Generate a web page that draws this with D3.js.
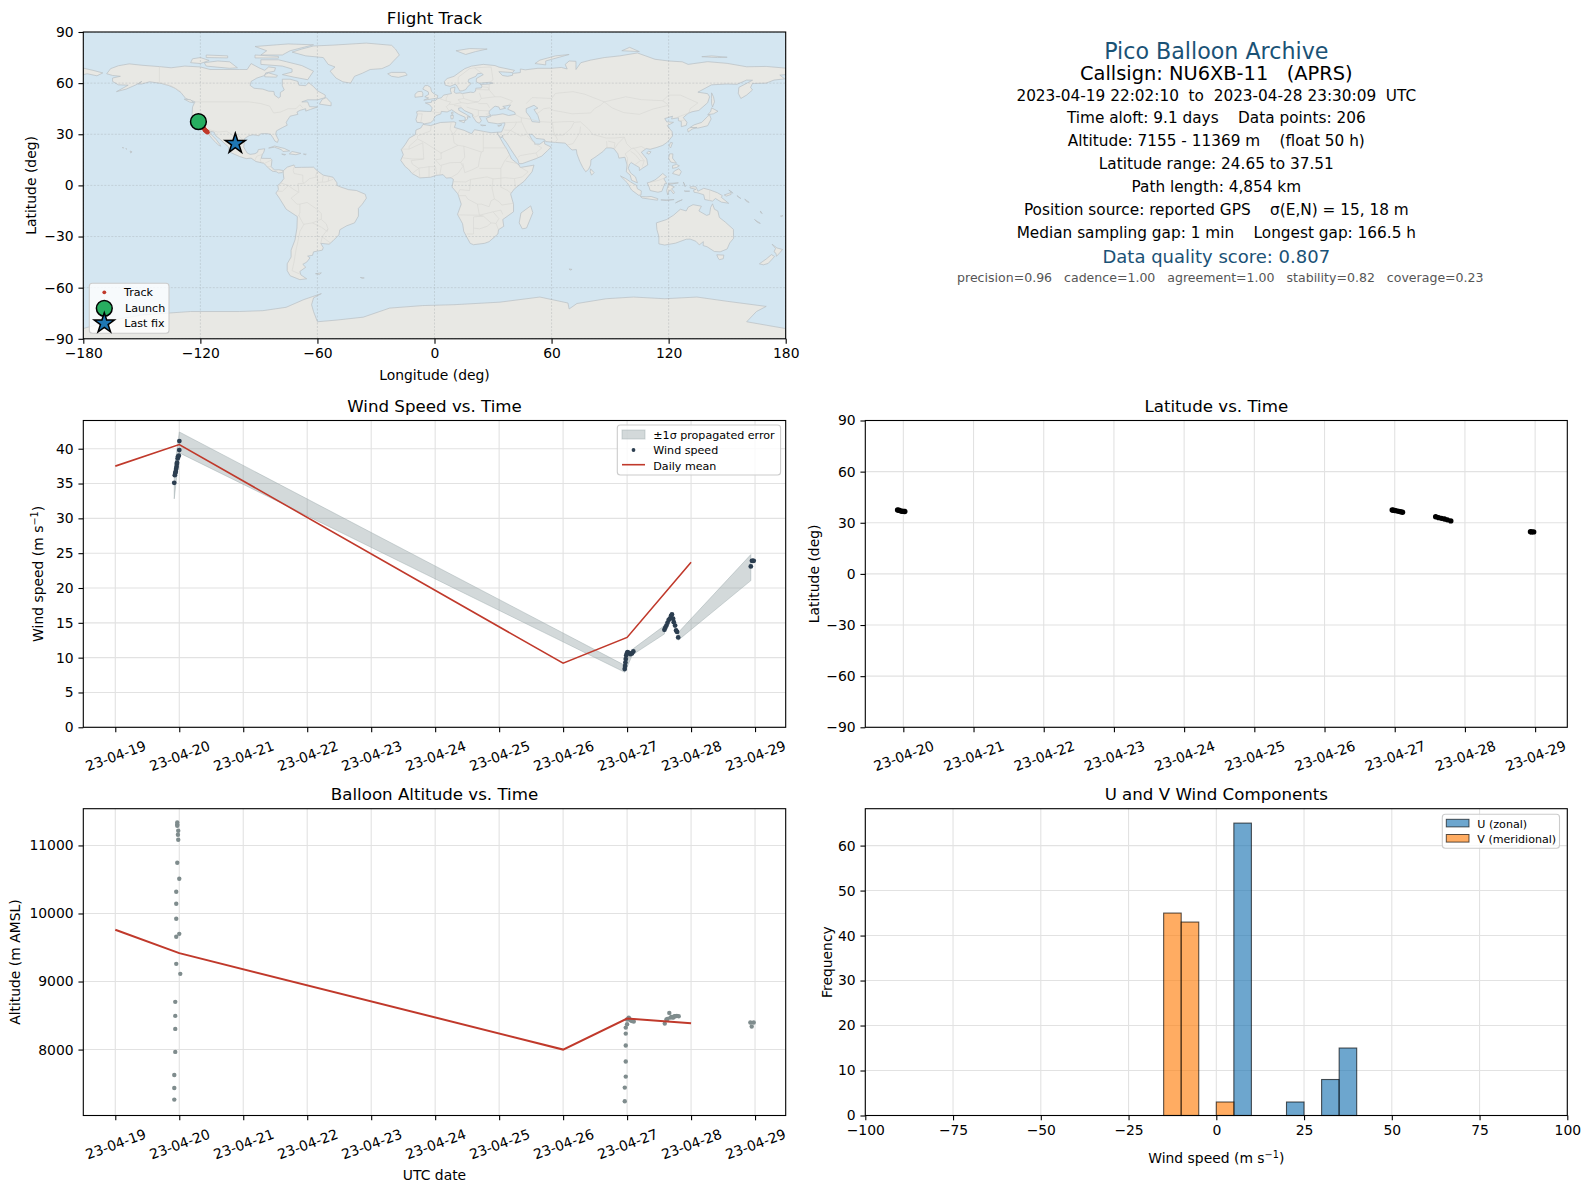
<!DOCTYPE html>
<html>
<head>
<meta charset="utf-8">
<script src="https://cdn.jsdelivr.net/npm/d3@7"></script>
<style>
  body { margin: 0; background: #fff; }
  text { font-family: "DejaVu Sans", sans-serif; white-space: pre; fill: #000; }
</style>
</head>
<body>
<div id="chart"></div>
<script>
// flight data
const dayTicks = ['2023-04-19', '2023-04-20', '2023-04-21', '2023-04-22', '2023-04-23', '2023-04-24', '2023-04-25', '2023-04-26', '2023-04-27', '2023-04-28', '2023-04-29']

const windTimes = ['04-19 22:07', '04-19 22:20', '04-19 22:30', '04-19 22:40', '04-19 22:50', '04-19 23:00', '04-19 23:05', '04-19 23:10', '04-19 23:25', '04-19 23:35', '04-19 23:50', '04-20 00:00', '04-20 00:02',
  '04-26 23:07', '04-26 23:15', '04-26 23:22', '04-26 23:30', '04-26 23:40', '04-26 23:55', '04-27 00:10', '04-27 00:40', '04-27 01:15', '04-27 01:50', '04-27 02:20',
  '04-27 14:00', '04-27 14:20', '04-27 14:45', '04-27 15:10', '04-27 15:35', '04-27 16:00', '04-27 16:30', '04-27 16:50', '04-27 17:15', '04-27 17:31', '04-27 18:00', '04-27 18:23', '04-27 18:45', '04-27 19:10',
  '04-28 22:25', '04-28 22:50', '04-28 23:10', '04-28 23:30']
const windSpeed = [35.1, 36.2, 36.5, 36.7, 37.1, 37.4, 37.8, 38.0, 38.6, 38.9, 39.0, 39.8, 41.1,
  8.37, 8.8, 9.3, 9.8, 10.3, 10.6, 10.8, 10.7, 10.5, 10.6, 10.9,
  14.0, 14.3, 14.6, 15.0, 15.4, 15.6, 16.0, 16.2, 15.6, 15.1, 14.6, 13.9, 13.7, 12.9,
  23.1, 23.9, 23.9, 23.9]

// null marks the gaps of the error band
const bandTimes = ['04-19 22:07', '04-20 00:02', '04-26 23:07', '04-27 02:00', '04-27 14:00', '04-27 16:00', '04-27 19:10', '04-28 22:25']
const bandUpper = [37.0, 42.4, 8.9, 11.2, 14.6, null, 13.6, 24.8]
const bandLower = [32.8, 39.4, 7.9, 10.4, 13.4, null, 12.5, 21.06]

const dailyTimes = ['04-19 00:00', '04-20 00:00', '04-26 00:00', '04-27 00:00', '04-28 00:00']
const dailyWind = [37.5, 40.6, 9.2, 12.9, 23.7]
const dailyAlt = [9760, 9417, 8000, 8456, 8385]

const latTimes = ['04-19 22:02', '04-19 22:30', '04-19 23:00', '04-19 23:30', '04-20 00:00', '04-20 00:30',
  '04-26 23:08', '04-26 23:30', '04-27 00:00', '04-27 00:40', '04-27 01:20', '04-27 02:00', '04-27 02:40',
  '04-27 14:00', '04-27 15:00', '04-27 16:00', '04-27 17:00', '04-27 18:00', '04-27 19:10',
  '04-28 22:25', '04-28 22:50', '04-28 23:30']
const latValues = [37.5, 37.3, 37.0, 36.8, 36.7, 36.6,
  37.5, 37.4, 37.2, 37.0, 36.7, 36.5, 36.2,
  33.5, 33.0, 32.6, 32.2, 31.7, 31.1,
  24.7, 24.65, 24.65]

const altTimes = ['04-19 22:08', '04-19 22:08', '04-19 22:08', '04-19 22:30', '04-19 22:30', '04-19 22:30', '04-19 22:30', '04-20 00:23', '04-19 22:52', '04-20 00:00', '04-19 22:52', '04-19 22:52', '04-19 22:52', '04-20 00:00', '04-19 22:52', '04-19 23:15', '04-19 23:37', '04-19 23:30', '04-19 23:37', '04-19 23:15', '04-19 23:15', '04-19 23:15',
  '04-26 23:08', '04-26 23:08', '04-26 23:30', '04-26 23:30', '04-26 23:30', '04-26 23:30', '04-26 23:30', '04-27 00:00', '04-27 00:00', '04-27 00:37', '04-27 00:55', '04-27 01:15', '04-27 01:50', '04-27 02:30',
  '04-27 14:08', '04-27 14:45', '04-27 15:10', '04-27 15:50', '04-27 16:15', '04-27 16:38', '04-27 17:00', '04-27 17:20', '04-27 17:45', '04-27 18:07', '04-27 18:40', '04-27 19:22',
  '04-28 22:15', '04-28 22:45', '04-28 23:30']
const altValues = [7265, 7436, 7627, 7966, 8304, 8495, 8701, 9113, 9260, 9701, 9657, 9922, 10142, 10510, 10319, 10745, 11083, 11157, 11216, 11289, 11309, 11338,
  7240, 7441, 7603, 7824, 8059, 8235, 8323, 8373, 8441, 8470, 8450, 8431, 8420, 8412,
  8382, 8441, 8450, 8539, 8470, 8480, 8475, 8470, 8490, 8490, 8495, 8490,
  8397, 8338, 8397]

const histStarts = d3.range(-100, 100, 5)
const uBinStarts = [5, 20, 30, 35]
const uCounts = [65, 3, 8, 15]
const vBinStarts = [-15, -10, 0]
const vCounts = [45, 43, 3]

const trackLon = [-121, -120.3, -119.6, -118.9, -118.2, -117.6, -117, -116.4, -103, -102.1]
const trackLat = [37.4, 36.8, 36, 35, 33.6, 32.4, 31.8, 31.2, 24.7, 24.5]
const launchPos = [-121, 37.4]
const lastFixPos = [-102.1, 24.5]

const infoText = [
  'Pico Balloon Archive',
  'Callsign: NU6XB-11   (APRS)',
  '2023-04-19 22:02:10  to  2023-04-28 23:30:09  UTC',
  'Time aloft: 9.1 days    Data points: 206',
  'Altitude: 7155 - 11369 m    (float 50 h)',
  'Latitude range: 24.65 to 37.51',
  'Path length: 4,854 km',
  'Position source: reported GPS    σ(E,N) = 15, 18 m',
  'Median sampling gap: 1 min    Longest gap: 166.5 h',
  'Data quality score: 0.807',
  'precision=0.96   cadence=1.00   agreement=1.00   stability=0.82   coverage=0.23'
]

// coastlines as lon, lat
const landNorthAmerica = [[-168, 65.5], [-166, 68.5], [-162, 70.2], [-156.5, 71.3], [-150, 70.5], [-141, 69.7], [-135, 69], [-128, 70], [-120, 69.5], [-115, 68], [-108, 68], [-100, 68], [-96, 68], [-94, 71.5], [-90, 69], [-87, 67.5], [-85, 69.5], [-81.5, 69], [-82, 67], [-86.5, 66], [-87, 64.5], [-91, 63], [-94, 61], [-94.5, 58.7], [-92.5, 57], [-88, 56.5], [-85, 55.3], [-82.3, 55.1], [-82, 53], [-80, 51.3], [-79, 52], [-79, 54.5], [-77, 56], [-78, 58.5], [-78, 62.3], [-74, 62.3], [-70, 61], [-69.5, 58.8], [-66, 58.5], [-64.5, 60.3], [-62, 58], [-60, 55.5], [-56, 53], [-56, 51.5], [-60, 50.2], [-65, 50.2], [-68, 49], [-65, 49], [-64.5, 47.5], [-64, 46.2], [-60, 46], [-63.5, 44.6], [-66, 43.6], [-66, 45], [-69, 44], [-70.5, 43], [-70, 41.7], [-74, 40.6], [-75.5, 38], [-76, 36.9], [-75.5, 35.3], [-78, 33.9], [-81, 32], [-81.4, 30], [-80, 26.8], [-80.5, 25.2], [-81.8, 26], [-82.8, 28], [-84, 30], [-86, 30.4], [-89, 30.3], [-90, 29.2], [-93, 29.7], [-95, 29.2], [-97.3, 27.5], [-97.5, 25], [-97.8, 22.5], [-96, 19], [-94.5, 18.2], [-92, 18.6], [-90.7, 19.5], [-90.3, 21], [-87, 21.5], [-87.5, 19.5], [-88.3, 18], [-88.8, 15.9], [-84, 15.8], [-83.3, 15], [-83.7, 11], [-82, 9], [-80, 9.2], [-77.4, 8.7], [-78, 7.5], [-80, 7.3], [-81, 8], [-83, 8.3], [-85, 10], [-86, 11.3], [-87.5, 13], [-91.5, 14], [-94, 16], [-96.5, 15.7], [-100, 17], [-104, 19], [-105.5, 20.5], [-105.5, 22.5], [-108, 25], [-109.5, 26.7], [-112, 29], [-113, 31.3], [-114.8, 31.7], [-114.5, 30], [-112, 27], [-110, 24], [-109.5, 23], [-110.5, 23.5], [-112, 25], [-114, 27.5], [-115.8, 30], [-117.1, 32.5], [-118.5, 34], [-120.6, 34.5], [-122, 36.8], [-123.8, 39.5], [-124.3, 41], [-124, 46], [-123, 48.5], [-122.7, 49], [-125, 50], [-127.5, 51], [-130, 54.5], [-133, 57], [-136, 58.5], [-140, 59.8], [-146, 60.8], [-150, 59.5], [-152, 59.5], [-150, 61], [-153, 59], [-158, 56.5], [-163, 55], [-157, 58.8], [-162, 59], [-165, 61], [-165, 63], [-161, 64], [-165, 64.5]]
const landSouthAmerica = [[-77.4, 8.7], [-75.5, 10.7], [-72, 12], [-71.5, 10.5], [-68, 10.6], [-62, 10.7], [-60, 8.5], [-57, 6], [-52, 4.8], [-50, 1.5], [-50, 0], [-48, -1], [-44, -2.5], [-40, -3], [-35.5, -5.2], [-34.9, -7.5], [-37, -11], [-39, -13.5], [-39, -18], [-41, -22], [-45, -23.7], [-48.5, -26], [-49, -29], [-52, -32.5], [-54, -34.5], [-58.3, -34], [-57, -36.5], [-57.5, -38], [-62, -39], [-62.5, -41], [-65, -41.5], [-63.8, -42.5], [-65.5, -45], [-67.5, -46.3], [-66, -48], [-69, -50.5], [-68.5, -52.5], [-65.5, -54.8], [-69, -55.3], [-74, -53], [-75.5, -50], [-75.5, -46], [-73.5, -42], [-73.5, -38], [-71.5, -32], [-70.5, -25], [-70.3, -18.3], [-76, -14], [-79.5, -7.5], [-81.3, -4.5], [-80, -2.5], [-80.3, 0], [-78.8, 1.5], [-77.2, 4], [-77.5, 6.8]]
const landAfrica = [[-5.9, 35.8], [-2, 35.1], [3, 36.9], [10, 37.3], [11, 36.8], [10.2, 34], [15.2, 32.3], [19, 30.3], [20.5, 32.7], [25, 31.7], [29, 30.9], [32.3, 31.2], [32.6, 29.9], [35.5, 24], [37.2, 21], [38.5, 18], [39.5, 15.5], [43.3, 12], [44, 10.5], [51, 11.9], [50, 8], [46, 2.5], [41, -2], [39, -5], [40.5, -11], [40.5, -15.5], [35, -20], [35.5, -24], [32.8, -26], [32.5, -28.5], [28, -33], [25.6, -34], [20, -34.8], [18.3, -34], [15, -27], [14.4, -22.5], [11.8, -17], [13.7, -11], [12, -5], [9, -1], [9.7, 3.5], [8.5, 4.5], [6, 4.3], [4.4, 6.3], [1, 5.9], [-2, 4.8], [-7.5, 4.4], [-11.5, 7], [-13.3, 9.5], [-15, 11], [-17.3, 14.7], [-16, 18], [-17, 21], [-15, 24], [-13, 27.7], [-9.8, 29.8], [-9.5, 32.5], [-7, 33.7]]
const landEurasia = [[-9, 37], [-9.5, 38.7], [-8.8, 41.5], [-9.2, 43.2], [-8, 43.7], [-4, 43.4], [-1.7, 43.4], [-1.2, 45.5], [-2.5, 47.3], [-4.7, 48.4], [-1.6, 48.7], [-1.5, 49.7], [0.2, 49.6], [1.6, 50.9], [3.5, 51.4], [4.7, 53], [7, 53.5], [8.7, 53.9], [8.2, 55.5], [8.2, 57], [10.5, 57.7], [10.3, 56], [10, 54.8], [11, 54], [13, 54.3], [14.3, 53.9], [18.5, 54.7], [20, 54.5], [21, 55.3], [21.2, 57], [24, 57.2], [24.4, 58.4], [23.5, 59.2], [28, 59.5], [30, 60], [28.5, 60.5], [25, 60.2], [22.9, 59.9], [21.4, 60.8], [21.5, 62.7], [25, 65], [24, 65.8], [22, 65.5], [21.2, 64], [17.5, 62.2], [17.2, 60.7], [18.8, 59.8], [16.7, 57.5], [16, 56.2], [14.3, 55.5], [12.9, 55.4], [12.5, 56.3], [11.2, 58.9], [10.5, 59.3], [8, 58.1], [5.5, 58.8], [5, 61], [6.5, 62.7], [10, 64], [13, 66.5], [15.5, 68.5], [19, 70], [25, 71], [31, 70.3], [33, 69.4], [41, 67.5], [40, 66.2], [35, 66.6], [33, 66.7], [34.8, 64.5], [37.5, 64], [40, 64.6], [40, 65.7], [44, 66.2], [44, 68.3], [46.5, 67.8], [53, 68.7], [60, 68.7], [65, 69.2], [68, 68.3], [67, 71], [69, 73], [72.5, 72.8], [72.5, 71], [72.5, 68], [75, 72], [80, 73.5], [87, 75], [95, 76], [104, 77.7], [113, 74], [120, 73], [127, 72.5], [130, 71], [140, 72.6], [150, 71.6], [160, 69.6], [170, 69.8], [178, 69], [180, 68.8], [180, 65], [177, 64.7], [179.5, 62.5], [174, 61.8], [170, 60], [163, 59.8], [162, 57.5], [163, 56], [160, 53], [157, 51], [155.7, 54], [156, 57.5], [163, 61.7], [160, 61.8], [155, 59.3], [150, 59.5], [142, 59], [135, 54.7], [140, 53.8], [141, 52], [140, 48.5], [135.5, 44], [132, 43.2], [130, 42.3], [127.5, 39.8], [129.4, 37], [129, 35.2], [126.5, 34.5], [126.5, 37.5], [125, 38], [125, 39.7], [121.5, 39], [122, 40.6], [118, 39.2], [119, 37.3], [122.5, 37], [119.3, 35], [121.8, 31.5], [122, 29], [119.5, 25.5], [117, 23.5], [114, 22.3], [110.5, 21.2], [108.5, 21.6], [106, 19.5], [108.8, 15.5], [109.3, 12], [106.5, 10], [105, 8.7], [105, 10.5], [102.5, 12.2], [100.8, 13.4], [100, 12.5], [99.3, 10], [100.5, 7.3], [103, 5], [104, 1.5], [103, 2], [101, 3], [100.3, 6], [98.3, 8], [98.7, 12], [97.6, 16.5], [94.5, 16], [94, 18.5], [92, 21.5], [90.5, 22], [88, 22], [86.5, 20], [82.3, 16.5], [80.2, 15], [80, 12], [79, 9.5], [77.5, 8], [76, 10.5], [74.5, 14], [73, 18.5], [72.7, 21], [70.5, 20.8], [69, 22.3], [67, 24.8], [62, 25.2], [57, 25.7], [56.3, 27], [52, 27.6], [50, 30], [48.5, 30], [50, 26.7], [51.5, 25], [51.3, 24.2], [54, 24.2], [56.3, 26.2], [56.5, 24.3], [59.8, 22.5], [58, 20.5], [55, 17.2], [52, 15.7], [45, 12.8], [43.3, 12.7], [42.7, 15], [39.2, 21], [37, 25], [35, 28], [34.9, 29.5], [34.2, 27.8], [32.6, 29.9], [32.3, 31.2], [34.3, 31.3], [35, 32.8], [36, 35.8], [36, 36.8], [32.5, 36.1], [30.5, 36.5], [27.5, 37], [26.5, 39.4], [29, 40.5], [29.5, 41.2], [31.4, 41.3], [35, 42], [38, 41], [41.5, 41.7], [41, 43], [37.5, 44.7], [39, 47.2], [35, 46.3], [36.5, 45.3], [33.5, 44.5], [33, 46], [31, 46.5], [29.7, 45.3], [28, 43.5], [28, 41.9], [29, 41.2], [26.3, 40.3], [23, 40.4], [24, 38], [23, 36.5], [21.5, 37.2], [19.5, 40.5], [19.5, 41.8], [15.5, 43.8], [13.7, 45.6], [12.3, 45.3], [12.5, 44], [16, 41.8], [18.4, 40], [16.8, 40.3], [17, 39], [15.8, 38], [15.7, 40], [12.3, 41.7], [10.5, 43], [8.8, 44.4], [6.5, 43.1], [3.5, 43.4], [3.2, 41.9], [0.8, 41], [-0.3, 39.4], [-0.3, 38.5], [-2, 36.8], [-5.3, 36.1], [-6.3, 36.7]]
const landAustralia = [[113.7, -22], [114, -26], [115, -30], [115, -34.3], [118, -35], [123.5, -33.9], [129, -31.6], [131, -31.5], [134, -32.8], [135.7, -34.9], [137.8, -33], [137.7, -35.3], [139.7, -36], [143.5, -38.8], [146.4, -39], [150, -37.3], [151.3, -33.8], [153.3, -31], [153.2, -25.8], [149, -21.5], [146, -18.8], [145.2, -15], [143.5, -14], [142.5, -10.8], [141.5, -13], [141, -17], [139.5, -17.6], [135.5, -15], [136.8, -12.2], [132.5, -11.3], [130, -12.8], [129, -15], [126, -14], [122.5, -17.5], [119, -20]]
const landAntarctica = [[-180, -90], [-180, -84], [-165, -79], [-150, -76], [-125, -74], [-100, -74], [-88, -73.5], [-76, -71.5], [-67, -67], [-58, -63.5], [-62, -66], [-63, -70], [-62, -74], [-60, -80], [-50, -79], [-36.5, -77.3], [-23, -72], [-6, -70.5], [10, -70], [33.5, -68.5], [54, -65.5], [68.4, -69], [69, -72.5], [73, -69.3], [88, -66.5], [102, -65.5], [118, -66.5], [134.5, -65.5], [150, -68], [170, -71], [165, -74], [160, -80], [170, -82], [180, -84], [180, -90]]
const landIslands = [
  [[-73, 78.2], [-68, 80], [-62, 81.8], [-52, 82.3], [-35, 83.5], [-22, 82.2], [-20, 80], [-18, 76.5], [-21, 73], [-23, 70.5], [-27, 68.5], [-33, 68], [-37, 65.8], [-41, 64], [-43, 60], [-47, 60.8], [-50.5, 63], [-53.5, 67], [-51, 69.5], [-54.5, 71], [-57, 75], [-66, 76]],
  [[-65, 62], [-72, 63.5], [-78, 65], [-73, 66.5], [-73, 68.3], [-78, 70], [-89, 71], [-89, 73.7], [-80, 73.7], [-76, 72.6], [-68, 70.3], [-62, 67]],
  [[-117, 70], [-105, 68.7], [-101, 69], [-105, 72.5], [-111, 73], [-118, 72]],
  [[-125, 72], [-120, 71.5], [-115.5, 73.3], [-120, 75], [-124, 74.3]],
  [[-89, 76.5], [-78, 76.5], [-74, 79], [-62, 82.5], [-75, 83], [-92, 81.5], [-86, 79]],
  [[-92, 74.8], [-80, 74.7], [-80, 75.7], [-92, 76.5]],
  [[-117, 75], [-106, 74.8], [-106, 76], [-117, 76.5]],
  [[-87, 63.7], [-81, 63.5], [-80.5, 64.5], [-85, 66], [-87, 65]],
  [[-59, 47.7], [-53, 46.7], [-53, 48.5], [-55.5, 51.5], [-57.5, 50.5]],
  [[-128.3, 50.6], [-125, 50.2], [-123.4, 48.5], [-125.5, 48.9]],
  [[-85, 21.9], [-82, 23.1], [-77, 21.7], [-74.2, 20.2], [-77.7, 19.9], [-78.5, 21], [-82, 22.4]],
  [[-74.4, 18.5], [-73, 19.9], [-68.5, 18.8], [-71, 18]],
  [[-78.3, 18.4], [-76.3, 18.1], [-77, 17.8]],
  [[-67.2, 18.4], [-65.7, 18.3], [-66, 18]],
  [[-156, 20.2], [-155, 19.7], [-155.7, 19]],
  [[-158.2, 21.6], [-157.7, 21.4], [-158, 21.2]],
  [[-160, 22.2], [-159.3, 22.1], [-159.6, 21.8]],
  [[-180, 68.8], [-175, 67.5], [-170, 66], [-173, 64.3], [-178, 65.5], [-180, 65]],
  [[-5.5, 50], [1.4, 51.2], [1.7, 52.7], [0, 53.5], [-1.5, 55], [-2, 57.5], [-3.5, 58.6], [-5, 58.5], [-6, 56.5], [-3.2, 54.9], [-3, 53.4], [-5, 52], [-3, 51.3]],
  [[-10, 51.7], [-6, 52.2], [-6, 54], [-6.5, 55.2], [-8.5, 55], [-10, 53.5]],
  [[-24, 65.5], [-22, 64], [-18.5, 63.4], [-14, 64.7], [-15, 66.3], [-22, 66.3]],
  [[11, 79], [16, 76.8], [21, 78.5], [27, 80], [18, 80.3]],
  [[51.5, 71.5], [57, 70.7], [57, 73], [69, 76.8], [62, 76], [54, 73.5]],
  [[96, 79], [105, 78.5], [100, 81]],
  [[137, 75.5], [145, 75], [150, 75.2], [142, 76]],
  [[142, 54.3], [143, 52], [143.5, 49], [142.5, 46], [142, 48], [142, 51]],
  [[140, 41.5], [143, 42], [145.3, 43.5], [142, 45.5], [141.5, 43.2]],
  [[131, 34], [135, 33.6], [140, 35], [141.8, 39], [141, 41.4], [140, 40.5], [137, 37], [133, 35.5]],
  [[130, 31.3], [132, 33], [134.5, 34], [131, 33.9], [129.7, 33]],
  [[120.2, 23], [121, 22], [122, 25], [121, 25.2]],
  [[108.7, 19], [110, 18.3], [111, 19.7], [109.7, 20]],
  [[120, 16], [120.5, 18.5], [122.2, 18.5], [122, 16], [124, 13], [121, 13.7]],
  [[122, 7], [125.5, 5.8], [126.5, 8], [125.3, 9.8], [123, 8.5]],
  [[122, 10], [124, 10.5], [125.5, 11.5], [124, 12.3], [122, 11.6]],
  [[109, 1.5], [110, -1], [110.5, -3], [114.5, -4], [116.5, -3.5], [118, 1], [119, 1], [117.5, 4], [119, 5], [117, 7], [115, 5], [113, 3.2], [110, 1.7]],
  [[95.3, 5.5], [98, 4], [100.5, 2], [103.5, 0], [104, -2], [106, -3.2], [105.8, -5.8], [104.5, -5.7], [101, -2.7], [98.8, 1.5]],
  [[105.5, -6.5], [108.5, -6.7], [111, -6.5], [114.5, -7.8], [114.3, -8.7], [110, -8], [106.5, -7.4]],
  [[116, -8.5], [119, -8.5], [122.8, -8.3], [119, -8.9]],
  [[123.5, -10.3], [127, -8.4], [125, -9.3]],
  [[119.5, -5.5], [120.3, -3], [121, -2.7], [122.5, -5], [123, -4], [121.5, -2], [123, -0.9], [120, 0.5], [125, 1.5], [120, 1.2], [119, -3]],
  [[127.5, 2], [128.5, -0.8], [128, 1]],
  [[128, -3.2], [130.8, -3.4], [128.5, -3.6]],
  [[131, -0.8], [134, -0.8], [135, -3.4], [138, -1.7], [141, -2.6], [145, -4.3], [147.5, -6], [147, -7], [150.8, -10.5], [147, -9.8], [144, -7.7], [142.5, -9.2], [138.5, -8.3], [138, -5.5], [135, -4.4], [133, -4], [132.8, -2.8], [134, -2.3], [131, -1.5]],
  [[148.5, -5.6], [152, -4.2], [152, -5.3], [149.5, -6.3]],
  [[150.8, -2.7], [153, -4.6], [152.5, -4]],
  [[155, -6], [157, -7.7], [156, -7]],
  [[159, -8], [161.3, -10], [160, -9.5]],
  [[167, -15], [168, -16.5], [167.2, -16]],
  [[164, -20], [167, -22.3], [165.5, -21.7]],
  [[177.3, -18], [178.6, -17.7], [178, -18.3]],
  [[144.7, -40.7], [148.3, -40.9], [148, -43], [146, -43.6], [145.3, -42.5]],
  [[166.5, -46], [168.5, -46.6], [171, -45.8], [172.8, -43.6], [174.3, -41.7], [172.7, -40.6], [170, -43.2]],
  [[173, -34.5], [175.5, -36.7], [178.4, -37.6], [177, -39.5], [175.3, -41.6], [175, -39.8], [174, -39], [174.8, -37]],
  [[44.3, -16.2], [49.3, -12], [50.4, -16], [47.2, -25], [45, -25.5], [43.4, -22]],
  [[80, 9.7], [81.8, 7.5], [80.5, 6], [79.8, 8]],
  [[32.4, 35], [34.5, 35.6], [33, 34.6]],
  [[12.5, 38], [15.6, 38.2], [15.2, 36.7]],
  [[8.3, 41], [9.7, 41], [9.5, 39.1], [8.5, 39]],
  [[8.7, 42.8], [9.5, 43], [9.3, 41.5], [8.8, 41.7]],
  [[23.6, 35.5], [26.3, 35.2], [24.5, 35]],
  [[-61, -51.8], [-58, -51.3], [-59, -52.3]],
  [[69, -49], [70.5, -49.3], [69.5, -49.7]],
  [[-38, -54], [-36, -54.3], [-37, -54.5]]
]
const waterCaspian = [[47, 45], [51, 47], [53, 45.3], [51, 44.5], [53, 41], [54, 37], [50, 37.4], [49, 40], [47, 43]]

const borderLines = [
  [[-123, 49], [-95, 49], [-89, 48], [-84.5, 46.5], [-82.5, 42.5], [-79, 43], [-75, 45], [-71, 45], [-69, 47.3], [-67.5, 45.5]],
  [[-141, 69.7], [-141, 60.3], [-135, 58.5], [-130, 55]],
  [[-117.1, 32.5], [-114.8, 32.5], [-111, 31.3], [-106.5, 31.8], [-103, 29], [-101, 29.8], [-97.3, 25.9]],
  [[-92.2, 14.6], [-91, 17.2], [-89, 17.9], [-88.3, 18.4]],
  [[-89.2, 15.9], [-89.2, 14], [-87.5, 13]], [[-87, 13], [-83.3, 15]], [[-85.7, 11], [-83.7, 11]], [[-83, 8.3], [-82.8, 9.5]], [[-77.4, 8.7], [-77.8, 7.3]],
  [[-71.5, 12], [-72.5, 9], [-72, 7], [-67.5, 6], [-67.5, 2], [-66.9, 1.2]],
  [[-66.9, 1.2], [-70, 1], [-69.5, -4.2], [-72, -2.5], [-75, 0], [-78.8, 1.4]],
  [[-75, -0.2], [-78, -3.5], [-80.3, -3.4]],
  [[-69.9, -4.2], [-73.5, -7.5], [-70.5, -11], [-69, -11]],
  [[-69, -11], [-69, -16], [-69.5, -17.5], [-70.3, -18.3]],
  [[-69, -11], [-65.3, -10], [-60.5, -13.8], [-58, -16.5], [-58, -19.8]],
  [[-58, -19.8], [-62.6, -22], [-67, -22.8]],
  [[-69.5, -17.5], [-68.5, -20], [-67, -23], [-69, -27], [-70, -33], [-71, -38], [-72, -45], [-73, -50], [-69, -52]],
  [[-62.6, -22], [-58, -24.5], [-55, -27], [-54.6, -25.5], [-55.5, -22.5], [-58, -20]],
  [[-54.6, -25.5], [-57.5, -30], [-58.3, -34]], [[-57.6, -30.2], [-53.4, -33.7]],
  [[-60, 8.5], [-61, 5.2]], [[-66.9, 1.2], [-64, 4], [-60, 5], [-59.8, 1.8], [-56, 2], [-52, 3.5]],
  [[-57, 6], [-57.5, 2]], [[-54, 5.8], [-54.5, 2.3]],
  [[-8.7, 27.7], [-8.7, 29], [-2, 32], [-1.7, 35]],
  [[8.5, 36.8], [8, 33], [9.5, 30], [10, 25], [12, 23.5]], [[11.6, 33], [9.5, 30]],
  [[-8.7, 27.3], [-4.8, 25], [3.3, 19], [4, 19]],
  [[-17, 21.3], [-13, 21.3], [-13, 23], [-8.7, 27.3]], [[-13, 21.3], [-6, 25], [-5.5, 15.5], [-11.5, 15.5], [-16.5, 16.2]],
  [[12, 23.5], [3.3, 19], [3.5, 15.5], [0.5, 15], [3, 11.7], [8, 13.3], [13.5, 13.5], [15.5, 16.5], [15, 23]],
  [[25, 31.7], [25, 20], [24, 19.6], [15, 23], [12, 23.5]],
  [[25, 22], [37, 22]],
  [[24, 19.6], [23, 15], [22.5, 11], [19, 9], [15.5, 7.5], [14.5, 13]],
  [[13.5, 13.5], [14.5, 11], [12, 7], [8.6, 4.7]], [[2.7, 6.3], [3.6, 11.7]],
  [[-2.8, 5], [-2.8, 11], [-5.5, 10.5], [-8, 10.2], [-7.5, 4.4]], [[1.2, 6], [0.5, 11], [-2.8, 11]],
  [[-11.5, 7], [-8, 10], [-11.3, 12.4], [-12, 14.5], [-5.5, 15.5]],
  [[9.7, 2.2], [16, 2], [18.5, 3.5], [27, 5], [30, 3.8], [34, 4.2], [36, 4.5], [41, 4], [41.5, -1.7]],
  [[41, 4], [45, 5], [48, 8], [43.5, 11]],
  [[36, 14.5], [34, 10], [34, 4.2]], [[36, 14.5], [38.5, 18]], [[36.5, 14.3], [42.5, 12.8]], [[23, 10], [34, 10]],
  [[34, 4.2], [34, -1], [37.5, -3], [39.3, -4.7]],
  [[30, 3.8], [29.5, -1.5], [30.7, -8], [33, -9.5], [34.5, -11.5], [40.5, -10.5]],
  [[12.2, -6], [16, -6], [17, -8], [22, -11], [24, -11], [28, -12.5], [29, -9], [30.7, -8]],
  [[12, -5], [13, -2.5], [18, -3], [18.5, 3.5]],
  [[12, -17.3], [23, -17.5], [22, -11]],
  [[23, -17.5], [25, -18], [20, -18.5], [20, -28.5], [16.5, -28.5]],
  [[25, -18], [29, -22], [31.5, -22.3], [32.8, -26]], [[20, -25], [23, -25.5], [27, -24], [29, -22]],
  [[23, -17.5], [30, -15.5], [34, -14.5], [35, -17]], [[30, -15.5], [33, -19.5], [31.5, -22.3]],
  [[-1.7, 43.4], [3.2, 42.4]], [[-8.8, 42], [-6.3, 42], [-7, 37.2]],
  [[2.5, 51], [6, 49.5], [8.2, 49], [7.5, 47.6], [6, 46.2], [7.5, 43.8]], [[7, 53.5], [6, 51], [6, 49.5]],
  [[14.3, 53.9], [15, 51], [12, 50.3], [13.7, 48.6], [10, 47.5], [7.5, 47.6]], [[13.7, 46.5], [10, 46.8]],
  [[23, 54.3], [24, 51], [22.5, 49], [19, 49.5], [15, 51]], [[21, 56.3], [28, 56], [27.5, 57.5], [24.4, 57.9]],
  [[22.5, 49], [17, 48], [13.7, 48.6]], [[16.5, 46], [19, 45], [22.5, 44.2], [22.5, 41], [20.5, 40], [19.5, 42]],
  [[22.5, 48], [27, 48], [28.2, 45.5]], [[22.5, 44], [28, 43.7]],
  [[28, 59.5], [28, 56], [31, 52], [34, 52], [40, 49.5], [38, 47.2]], [[31, 52], [24, 51]],
  [[12, 59], [12.2, 63.5], [18, 68.5], [20.5, 69], [29, 69.5], [30, 62], [28.5, 60.5]], [[20.5, 69], [24, 66]],
  [[26.2, 41.8], [28, 41.9]], [[36, 36.8], [44.5, 37.2], [44.5, 39.7], [41.5, 41.5]],
  [[35.8, 32.5], [39, 32.3], [44, 29], [47.7, 30], [46, 34], [44.7, 37.2]], [[42, 37], [41, 34.5], [39, 32.3]],
  [[35, 29.4], [37, 30], [39, 32.3]], [[47.5, 29], [51.5, 24.5], [55, 22], [52, 19], [49, 18.5], [44, 17.5], [42.8, 16.5]], [[52, 19], [53, 16.7]],
  [[44.5, 39.7], [48.5, 39], [54, 37.4], [60.5, 37], [61, 31.5], [63, 27], [61.7, 25]],
  [[61, 29.5], [66, 29.5], [70, 33.5], [71.5, 37], [74.8, 37.3]], [[60.5, 37], [65, 37.3], [71.5, 37.5]],
  [[47, 48], [50, 51.5], [60, 51], [62, 54], [71, 55], [77, 53.5], [87, 49]],
  [[52.5, 42], [56, 45], [59, 45.5], [61, 44], [66, 43], [70.5, 42], [80, 42.5], [82, 45], [85, 47], [87, 49]],
  [[87, 49], [98, 52], [106, 50.3], [117, 49.7], [120, 47], [112, 44.8], [105, 41.7], [97, 42.7], [91, 45.5], [87, 49]],
  [[117, 49.7], [120, 53], [126, 53], [135, 48.4], [131, 45], [130.5, 42.5]],
  [[124.5, 40], [128, 41.5], [130.5, 42.5]], [[126, 38], [128.5, 38.5]],
  [[74.8, 37.3], [79, 33], [81, 30], [88, 27.8], [92, 27.8], [97.3, 28.3], [98.5, 24.5], [101, 21.5], [106, 22.8], [108, 21.6]],
  [[68, 23.7], [71, 24.5], [74.5, 31], [74.8, 34.5]],
  [[88.2, 26], [88.5, 22]], [[92, 21.5], [92.5, 25], [89, 26]],
  [[92, 21], [94, 24.5], [97.3, 28.3]], [[98.7, 10.5], [99, 16], [97.7, 18.5], [101, 21.5]],
  [[100.5, 20], [103, 18], [105.5, 14.5], [102.6, 12]], [[105.5, 14.5], [107.5, 14.5], [104.5, 19], [101.7, 22.3]], [[106.5, 11], [107.5, 14.5]],
  [[110, 1.7], [115, 3], [117.5, 4.2]], [[141, -2.6], [141, -9.2]]
]

// layout of the panels
const col1 = [83.3, 785.7]
const col2 = [865.3, 1567.3]
const row1 = [32, 338.8]
const row2 = [420.5, 727.3]
const row3 = [808.7, 1115.5]
const tickLen = 4.86

const svg = d3.select('#chart').append('svg')
  .attr('width', 1590)
  .attr('height', 1189)

const parseFull = d3.utcParse('%Y-%m-%d %H:%M')
const parseTime = function (s) { return parseFull('2023-' + s) }
const parseDay = d3.utcParse('%Y-%m-%d')
const days = dayTicks.map(parseDay)

function drawGrid (cols, rows, x, y, xTicks, yTicks) {
  const g = svg.append('g')
  g.selectAll('.gx').data(xTicks).enter().append('line')
    .attr('x1', x).attr('x2', x)
    .attr('y1', rows[0]).attr('y2', rows[1])
    .attr('stroke', '#e2e2e2').attr('stroke-width', 1.1)
  g.selectAll('.gy').data(yTicks).enter().append('line')
    .attr('x1', cols[0]).attr('x2', cols[1])
    .attr('y1', y).attr('y2', y)
    .attr('stroke', '#e2e2e2').attr('stroke-width', 1.1)
}

// axes and the spines go on top of the marks
function drawAxes (cols, rows, x, y, xTicks, yTicks, xFormat, yFormat, rotate, title) {
  const ax = svg.append('g')
    .attr('transform', 'translate(0,' + rows[1] + ')')
    .call(d3.axisBottom(x).tickValues(xTicks).tickFormat(xFormat).tickSize(tickLen).tickPadding(tickLen).tickSizeOuter(0))
  const ay = svg.append('g')
    .attr('transform', 'translate(' + cols[0] + ',0)')
    .call(d3.axisLeft(y).tickValues(yTicks).tickFormat(yFormat).tickSize(tickLen).tickPadding(tickLen).tickSizeOuter(0))
  ax.selectAll('text').style('font-size', '13.9px').attr('font-family', null)
  ay.selectAll('text').style('font-size', '13.9px').attr('font-family', null)
  ax.selectAll('line').attr('stroke-width', 1.1)
  ay.selectAll('line').attr('stroke-width', 1.1)
  ax.select('.domain').remove()
  ay.select('.domain').remove()
  if (rotate) {
    ax.selectAll('text')
      .attr('y', 0).attr('dy', '0.36em')
      .attr('transform', 'translate(0,28.5) rotate(-20)')
  }
  svg.append('rect')
    .attr('x', cols[0]).attr('y', rows[0])
    .attr('width', cols[1] - cols[0]).attr('height', rows[1] - rows[0])
    .attr('fill', 'none').attr('stroke', '#000').attr('stroke-width', 1.1)
  svg.append('text')
    .attr('x', (cols[0] + cols[1]) / 2).attr('y', rows[0] - 8.3)
    .attr('text-anchor', 'middle').style('font-size', '16.67px')
    .text(title)
}

function xLabel (cols, y, text, sup) {
  const t = svg.append('text')
    .attr('x', (cols[0] + cols[1]) / 2).attr('y', y)
    .attr('text-anchor', 'middle').style('font-size', '13.9px')
    .text(text)
  if (sup) addSup(t)
}

function yLabel (rows, x, text, sup) {
  const t = svg.append('text')
    .attr('text-anchor', 'middle').style('font-size', '13.9px')
    .attr('transform', 'translate(' + x + ',' + (rows[0] + rows[1]) / 2 + ') rotate(-90)')
    .text(text)
  if (sup) addSup(t)
}

// m s^-1 in the unit
function addSup (t) {
  t.append('tspan').attr('dy', -5).style('font-size', '9.7px').text('−1')
  t.append('tspan').attr('dy', 5).text(')')
}

function legendBox (x0, x1, y0, y1) {
  svg.append('rect')
    .attr('x', x0).attr('y', y0)
    .attr('width', x1 - x0).attr('height', y1 - y0)
    .attr('rx', 3).attr('ry', 3)
    .attr('fill', '#fff').attr('fill-opacity', 0.8)
    .attr('stroke', '#ccc').attr('stroke-width', 1.1)
}

function legendText (x, y, text) {
  svg.append('text').attr('x', x).attr('y', y).style('font-size', '11.1px').text(text)
}

// ---- flight track map
const lonX = d3.scaleLinear().domain([-180, 180]).range(col1)
const latY = d3.scaleLinear().domain([-90, 90]).range([row1[1], row1[0]])
const lonLine = d3.line().x(function (d) { return lonX(d[0]) }).y(function (d) { return latY(d[1]) })
const lonTicks = d3.range(-180, 181, 60)
const latTicks = d3.range(-90, 91, 30)

svg.append('clipPath').attr('id', 'map-clip').append('rect')
  .attr('x', col1[0]).attr('y', row1[0])
  .attr('width', col1[1] - col1[0]).attr('height', row1[1] - row1[0])

const mapG = svg.append('g').attr('clip-path', 'url(#map-clip)')
mapG.append('rect')
  .attr('x', col1[0]).attr('y', row1[0])
  .attr('width', col1[1] - col1[0]).attr('height', row1[1] - row1[0])
  .attr('fill', '#d4e6f1')

const landShapes = [landNorthAmerica, landSouthAmerica, landAfrica, landEurasia, landAustralia, landAntarctica].concat(landIslands)
mapG.selectAll('path.land').data(landShapes).enter().append('path')
  .attr('class', 'land')
  .attr('d', function (d) { return lonLine(d) + 'Z' })
  .attr('fill', '#e8e8e4')
  .attr('stroke', '#b8bfc3')
  .attr('stroke-width', 0.7)
  .attr('stroke-linejoin', 'round')
mapG.append('path')
  .attr('d', lonLine(waterCaspian) + 'Z')
  .attr('fill', '#d4e6f1')
  .attr('stroke', '#b8bfc3')
  .attr('stroke-width', 0.7)
mapG.selectAll('path.border').data(borderLines).enter().append('path')
  .attr('class', 'border')
  .attr('d', lonLine)
  .attr('fill', 'none')
  .attr('stroke', '#d6d7d4')
  .attr('stroke-width', 0.6)
mapG.selectAll('.glon').data(lonTicks).enter().append('line')
  .attr('x1', lonX).attr('x2', lonX)
  .attr('y1', row1[0]).attr('y2', row1[1])
  .attr('stroke', '#9aa0a3').attr('stroke-opacity', 0.45)
  .attr('stroke-width', 0.7).attr('stroke-dasharray', '2,1.5')
mapG.selectAll('.glat').data(latTicks).enter().append('line')
  .attr('x1', col1[0]).attr('x2', col1[1])
  .attr('y1', latY).attr('y2', latY)
  .attr('stroke', '#9aa0a3').attr('stroke-opacity', 0.45)
  .attr('stroke-width', 0.7).attr('stroke-dasharray', '2,1.5')

mapG.selectAll('circle.track').data(trackLon).enter().append('circle')
  .attr('class', 'track')
  .attr('cx', function (d) { return lonX(d) })
  .attr('cy', function (d, i) { return latY(trackLat[i]) })
  .attr('r', 2.4)
  .attr('fill', '#c0392b')

const starPath = d3.symbol().type(d3.symbolStar).size(125)()

function launchMark (g, x, y) {
  g.append('circle').attr('cx', x).attr('cy', y).attr('r', 7.9)
    .attr('fill', '#27ae60').attr('stroke', '#000').attr('stroke-width', 1.5)
}
function starMark (g, x, y) {
  g.append('path').attr('d', starPath).attr('transform', 'translate(' + x + ',' + y + ')')
    .attr('fill', '#1f77b4').attr('stroke', '#000').attr('stroke-width', 1.5)
}
launchMark(mapG, lonX(launchPos[0]), latY(launchPos[1]))
starMark(mapG, lonX(lastFixPos[0]), latY(lastFixPos[1]))

drawAxes(col1, row1, lonX, latY, lonTicks, latTicks, d3.format('d'), d3.format('d'), false, 'Flight Track')
xLabel(col1, 380, 'Longitude (deg)')
yLabel(row1, 35.5, 'Latitude (deg)')

legendBox(89.3, 169, 283.3, 333.3)
svg.append('circle').attr('cx', 104.3).attr('cy', 292.3).attr('r', 1.9).attr('fill', '#c0392b')
launchMark(svg, 104.3, 308.3)
starMark(svg, 104.3, 323.3)
legendText(124, 296, 'Track')
legendText(125, 312.3, 'Launch')
legendText(124.3, 327, 'Last fix')

// ---- wind speed
const timeX = d3.scaleUtc()
  .domain([parseFull('2023-04-18 12:00'), parseFull('2023-04-29 11:30')])
  .range(col1)
const windY = d3.scaleLinear().domain([0, 44.05]).range([row2[1], row2[0]])
const windTicks = d3.range(0, 41, 5)
const dayFormat = d3.utcFormat('%y-%m-%d')

drawGrid(col1, row2, timeX, windY, days, windTicks)

const band = d3.area()
  .defined(function (d) { return bandUpper[d] !== null })
  .x(function (d) { return timeX(parseTime(bandTimes[d])) })
  .y0(function (d) { return windY(bandLower[d]) })
  .y1(function (d) { return windY(bandUpper[d]) })
svg.append('path')
  .attr('d', band(d3.range(bandTimes.length)))
  .attr('fill', '#95a5a6').attr('fill-opacity', 0.42)
  .attr('stroke', '#95a5a6').attr('stroke-opacity', 0.42).attr('stroke-width', 1)

svg.selectAll('circle.wind').data(windSpeed).enter().append('circle')
  .attr('class', 'wind')
  .attr('cx', function (d, i) { return timeX(parseTime(windTimes[i])) })
  .attr('cy', function (d) { return windY(d) })
  .attr('r', 2.4)
  .attr('fill', '#2c3e50')

svg.append('path')
  .datum(dailyWind)
  .attr('d', d3.line()
    .x(function (d, i) { return timeX(parseTime(dailyTimes[i])) })
    .y(function (d) { return windY(d) }))
  .attr('fill', 'none').attr('stroke', '#c0392b').attr('stroke-width', 1.6)

drawAxes(col1, row2, timeX, windY, days, windTicks, dayFormat, d3.format('d'), true, 'Wind Speed vs. Time')
yLabel(row2, 42.6, 'Wind speed (m s', true)

legendBox(617.3, 780.6, 425, 475)
svg.append('rect').attr('x', 622).attr('y', 430).attr('width', 23).attr('height', 9)
  .attr('fill', '#95a5a6').attr('fill-opacity', 0.42).attr('stroke', '#95a5a6').attr('stroke-opacity', 0.42)
svg.append('circle').attr('cx', 633.5).attr('cy', 450).attr('r', 1.9).attr('fill', '#2c3e50')
svg.append('line').attr('x1', 622).attr('x2', 645).attr('y1', 464.7).attr('y2', 464.7)
  .attr('stroke', '#c0392b').attr('stroke-width', 1.6)
legendText(653.3, 439, '±1σ propagated error')
legendText(653.3, 454, 'Wind speed')
legendText(653.3, 470, 'Daily mean')

// ---- latitude
const latTimeX = d3.scaleUtc()
  .domain([parseFull('2023-04-19 11:00'), parseFull('2023-04-29 11:00')])
  .range(col2)
const latPanelY = d3.scaleLinear().domain([-90, 90]).range([row2[1], row2[0]])
const latDays = days.slice(1)

drawGrid(col2, row2, latTimeX, latPanelY, latDays, latTicks)
svg.selectAll('circle.lat').data(latValues).enter().append('circle')
  .attr('class', 'lat')
  .attr('cx', function (d, i) { return latTimeX(parseTime(latTimes[i])) })
  .attr('cy', function (d) { return latPanelY(d) })
  .attr('r', 2.7)
  .attr('fill', '#000')
drawAxes(col2, row2, latTimeX, latPanelY, latDays, latTicks, dayFormat, d3.format('d'), true, 'Latitude vs. Time')
yLabel(row2, 819, 'Latitude (deg)')

// ---- altitude
const altY = d3.scaleLinear().domain([7031, 11540]).range([row3[1], row3[0]])
const altTicks = [8000, 9000, 10000, 11000]

drawGrid(col1, row3, timeX, altY, days, altTicks)
svg.selectAll('circle.alt').data(altValues).enter().append('circle')
  .attr('class', 'alt')
  .attr('cx', function (d, i) { return timeX(parseTime(altTimes[i])) })
  .attr('cy', function (d) { return altY(d) })
  .attr('r', 2.2)
  .attr('fill', '#7f8c8d')
svg.append('path')
  .datum(dailyAlt)
  .attr('d', d3.line()
    .x(function (d, i) { return timeX(parseTime(dailyTimes[i])) })
    .y(function (d) { return altY(d) }))
  .attr('fill', 'none').attr('stroke', '#c0392b').attr('stroke-width', 2)
drawAxes(col1, row3, timeX, altY, days, altTicks, dayFormat, d3.format('d'), true, 'Balloon Altitude vs. Time')
xLabel(col1, 1180, 'UTC date')
yLabel(row3, 20, 'Altitude (m AMSL)')

// ---- histogram
const histX = d3.scaleLinear().domain([-100, 100]).range(col2)
const histY = d3.scaleLinear().domain([0, 68.2]).range([row3[1], row3[0]])
const histXTicks = d3.range(-100, 101, 25)
const histYTicks = d3.range(0, 61, 10)

drawGrid(col2, row3, histX, histY, histXTicks, histYTicks)

function drawBars (starts, counts, color) {
  svg.append('g').selectAll('rect').data(histStarts).enter().append('rect')
    .attr('x', function (d) { return histX(d) })
    .attr('width', function (d) { return histX(d + 5) - histX(d) })
    .attr('y', function (d) {
      const i = starts.indexOf(d)
      return histY(i < 0 ? 0 : counts[i])
    })
    .attr('height', function (d) {
      const i = starts.indexOf(d)
      return histY(0) - histY(i < 0 ? 0 : counts[i])
    })
    .attr('fill', color).attr('fill-opacity', 0.65)
    .attr('stroke', '#000').attr('stroke-opacity', 0.65).attr('stroke-width', 1.1)
}
drawBars(uBinStarts, uCounts, '#1f77b4')
drawBars(vBinStarts, vCounts, '#ff7f0e')

drawAxes(col2, row3, histX, histY, histXTicks, histYTicks, d3.format('d'), d3.format('d'), false, 'U and V Wind Components')
xLabel(col2, 1163, 'Wind speed (m s', true)
yLabel(row3, 832, 'Frequency')

legendBox(1442.3, 1559.5, 814.3, 848.3)
svg.append('rect').attr('x', 1446.3).attr('y', 819.3).attr('width', 22.7).attr('height', 7.6)
  .attr('fill', '#1f77b4').attr('fill-opacity', 0.65).attr('stroke', '#000').attr('stroke-opacity', 0.65)
svg.append('rect').attr('x', 1446.3).attr('y', 834.5).attr('width', 22.7).attr('height', 7.6)
  .attr('fill', '#ff7f0e').attr('fill-opacity', 0.65).attr('stroke', '#000').attr('stroke-opacity', 0.65)
legendText(1477.3, 828, 'U (zonal)')
legendText(1477.3, 843, 'V (meridional)')

// ---- summary text
const infoSize = [22.2, 19.4, 15.3, 15.3, 15.3, 15.3, 15.3, 15.3, 15.3, 18, 12.55]
const infoColor = ['#1a5276', '#000', '#000', '#000', '#000', '#000', '#000', '#000', '#000', '#1a5276', '#555']
const infoY = [58.5, 80, 100.7, 123.3, 146.3, 169, 192.3, 215, 238.3, 263.3, 282.2]
const infoShift = [0, 0, 0, 0, 0, 0, 0, 0, 0, 0, 4]

svg.selectAll('text.info').data(infoText).enter().append('text')
  .attr('class', 'info')
  .attr('x', function (d, i) { return (col2[0] + col2[1]) / 2 + infoShift[i] })
  .attr('y', function (d, i) { return infoY[i] })
  .attr('text-anchor', 'middle')
  .style('font-size', function (d, i) { return infoSize[i] + 'px' })
  .style('fill', function (d, i) { return infoColor[i] })
  .text(function (d) { return d })
</script>
</body>
</html>
